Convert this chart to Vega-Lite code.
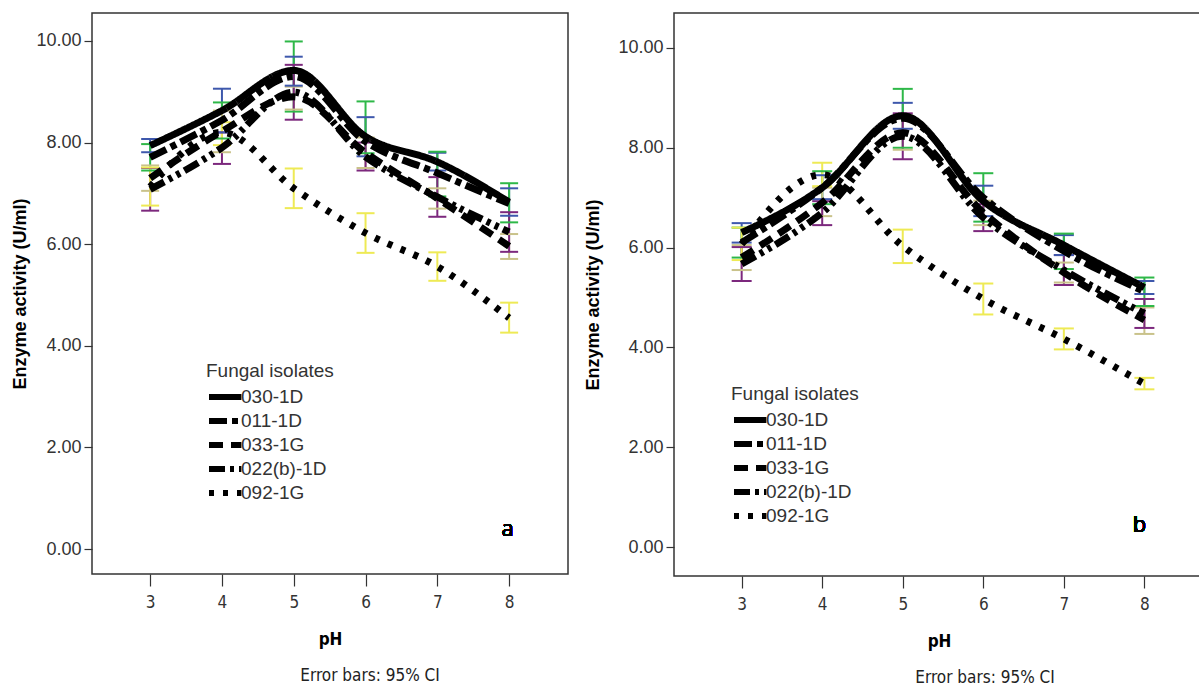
{
  "$schema": "https://vega.github.io/schema/vega-lite/v6.json",
  "padding": {"left": 11, "top": 12, "right": 0, "bottom": 0},
  "background": "white",
  "config": {
    "font": "Liberation Sans",
    "view": {"stroke": "#333333", "strokeWidth": 1.5},
    "axis": {"grid": false, "domain": false, "tickColor": "#333333", "tickWidth": 1.2, "labelColor": "#333333", "titleColor": "#000000"}
  },
  "datasets": {
    "a": [
      {"isolate": "030-1D", "pH": 3, "mean": 7.94, "lo": 7.81, "hi": 8.07},
      {"isolate": "030-1D", "pH": 4, "mean": 8.63, "lo": 8.2, "hi": 9.06},
      {"isolate": "030-1D", "pH": 5, "mean": 9.42, "lo": 9.12, "hi": 9.69},
      {"isolate": "030-1D", "pH": 6, "mean": 8.12, "lo": 7.73, "hi": 8.5},
      {"isolate": "030-1D", "pH": 7, "mean": 7.62, "lo": 7.45, "hi": 7.8},
      {"isolate": "030-1D", "pH": 8, "mean": 6.83, "lo": 6.56, "hi": 7.1},
      {"isolate": "011-1D", "pH": 3, "mean": 7.71, "lo": 7.45, "hi": 7.97},
      {"isolate": "011-1D", "pH": 4, "mean": 8.44, "lo": 8.08, "hi": 8.79},
      {"isolate": "011-1D", "pH": 5, "mean": 9.3, "lo": 8.61, "hi": 9.99},
      {"isolate": "011-1D", "pH": 6, "mean": 8.02, "lo": 7.79, "hi": 8.81},
      {"isolate": "011-1D", "pH": 7, "mean": 7.4, "lo": 6.94, "hi": 7.82},
      {"isolate": "011-1D", "pH": 8, "mean": 6.8, "lo": 6.43, "hi": 7.2},
      {"isolate": "033-1G", "pH": 3, "mean": 7.3, "lo": 7.05, "hi": 7.55},
      {"isolate": "033-1G", "pH": 4, "mean": 8.22, "lo": 7.81, "hi": 8.63},
      {"isolate": "033-1G", "pH": 5, "mean": 8.9, "lo": 8.65, "hi": 9.1},
      {"isolate": "033-1G", "pH": 6, "mean": 7.8, "lo": 7.5, "hi": 8.1},
      {"isolate": "033-1G", "pH": 7, "mean": 6.9, "lo": 6.7, "hi": 7.1},
      {"isolate": "033-1G", "pH": 8, "mean": 5.96, "lo": 5.71, "hi": 6.2},
      {"isolate": "022(b)-1D", "pH": 3, "mean": 7.08, "lo": 6.66, "hi": 7.5},
      {"isolate": "022(b)-1D", "pH": 4, "mean": 7.9, "lo": 7.58, "hi": 8.2},
      {"isolate": "022(b)-1D", "pH": 5, "mean": 8.99, "lo": 8.45, "hi": 9.53},
      {"isolate": "022(b)-1D", "pH": 6, "mean": 7.72, "lo": 7.45, "hi": 8.0},
      {"isolate": "022(b)-1D", "pH": 7, "mean": 6.93, "lo": 6.54, "hi": 7.32},
      {"isolate": "022(b)-1D", "pH": 8, "mean": 6.24, "lo": 5.85, "hi": 6.63},
      {"isolate": "092-1G", "pH": 3, "mean": 7.13, "lo": 6.76, "hi": 7.51},
      {"isolate": "092-1G", "pH": 4, "mean": 8.2, "lo": 7.95, "hi": 8.4},
      {"isolate": "092-1G", "pH": 5, "mean": 7.1, "lo": 6.71, "hi": 7.49},
      {"isolate": "092-1G", "pH": 6, "mean": 6.22, "lo": 5.83, "hi": 6.61},
      {"isolate": "092-1G", "pH": 7, "mean": 5.56, "lo": 5.28, "hi": 5.84},
      {"isolate": "092-1G", "pH": 8, "mean": 4.55, "lo": 4.26, "hi": 4.85}
    ],
    "b": [
      {"isolate": "030-1D", "pH": 3, "mean": 6.3, "lo": 6.1, "hi": 6.49},
      {"isolate": "030-1D", "pH": 4, "mean": 7.2, "lo": 6.97, "hi": 7.45},
      {"isolate": "030-1D", "pH": 5, "mean": 8.64, "lo": 8.38, "hi": 8.9},
      {"isolate": "030-1D", "pH": 6, "mean": 6.93, "lo": 6.63, "hi": 7.24},
      {"isolate": "030-1D", "pH": 7, "mean": 6.05, "lo": 5.85, "hi": 6.25},
      {"isolate": "030-1D", "pH": 8, "mean": 5.2, "lo": 5.07, "hi": 5.33},
      {"isolate": "011-1D", "pH": 3, "mean": 6.1, "lo": 5.8, "hi": 6.4},
      {"isolate": "011-1D", "pH": 4, "mean": 7.2, "lo": 6.87, "hi": 7.53},
      {"isolate": "011-1D", "pH": 5, "mean": 8.59, "lo": 8.0, "hi": 9.18},
      {"isolate": "011-1D", "pH": 6, "mean": 7.0, "lo": 6.52, "hi": 7.49},
      {"isolate": "011-1D", "pH": 7, "mean": 5.93, "lo": 5.57, "hi": 6.28},
      {"isolate": "011-1D", "pH": 8, "mean": 5.12, "lo": 4.83, "hi": 5.4},
      {"isolate": "033-1G", "pH": 3, "mean": 5.8, "lo": 5.55, "hi": 6.05},
      {"isolate": "033-1G", "pH": 4, "mean": 6.9, "lo": 6.63, "hi": 7.2},
      {"isolate": "033-1G", "pH": 5, "mean": 8.3, "lo": 7.96, "hi": 8.64},
      {"isolate": "033-1G", "pH": 6, "mean": 6.7, "lo": 6.45, "hi": 6.94},
      {"isolate": "033-1G", "pH": 7, "mean": 5.5, "lo": 5.3, "hi": 5.7},
      {"isolate": "033-1G", "pH": 8, "mean": 4.55, "lo": 4.27, "hi": 4.8},
      {"isolate": "022(b)-1D", "pH": 3, "mean": 5.67, "lo": 5.33, "hi": 6.01},
      {"isolate": "022(b)-1D", "pH": 4, "mean": 6.7, "lo": 6.45, "hi": 6.93},
      {"isolate": "022(b)-1D", "pH": 5, "mean": 8.23, "lo": 7.77, "hi": 8.69},
      {"isolate": "022(b)-1D", "pH": 6, "mean": 6.6, "lo": 6.33, "hi": 6.87},
      {"isolate": "022(b)-1D", "pH": 7, "mean": 5.55, "lo": 5.25, "hi": 5.85},
      {"isolate": "022(b)-1D", "pH": 8, "mean": 4.68, "lo": 4.39, "hi": 4.97},
      {"isolate": "092-1G", "pH": 3, "mean": 6.07, "lo": 5.75, "hi": 6.4},
      {"isolate": "092-1G", "pH": 4, "mean": 7.46, "lo": 7.23, "hi": 7.7},
      {"isolate": "092-1G", "pH": 5, "mean": 6.03, "lo": 5.69, "hi": 6.36},
      {"isolate": "092-1G", "pH": 6, "mean": 4.97, "lo": 4.66, "hi": 5.28},
      {"isolate": "092-1G", "pH": 7, "mean": 4.17, "lo": 3.96, "hi": 4.38},
      {"isolate": "092-1G", "pH": 8, "mean": 3.27, "lo": 3.16, "hi": 3.39}
    ]
  },
  "spacing": 15,
  "resolve": {
    "scale": {"x": "independent", "y": "independent", "color": "independent", "strokeDash": "independent"}
  },
  "hconcat": [
    {
      "width": 476,
      "height": 561,
      "data": {"name": "a"},
      "title": {"text": "Error bars: 95% CI", "orient": "bottom", "dx": 40, "offset": 21, "fontSize": 17, "fontWeight": "normal", "font": "Liberation Sans Narrow, DejaVu Sans Condensed, Liberation Sans", "color": "#222222"},
      "encoding": {
        "x": {"field": "pH", "type": "quantitative",
          "scale": {"domain": [2.19, 8.82], "nice": false, "zero": false},
          "axis": {"values": [3, 4, 5, 6, 7, 8], "tickSize": 12, "labelPadding": 8, "labelFontSize": 17, "labelFont": "Liberation Sans Narrow, DejaVu Sans Condensed, Liberation Sans", "title": "pH", "titleFontSize": 17, "titleFontWeight": "bold", "titlePadding": 21, "titleFont": "Liberation Sans Narrow, DejaVu Sans Condensed, Liberation Sans"}}
      },
      "layer": [
        {
          "mark": {"type": "rule", "strokeWidth": 2},
          "encoding": {
            "y": {"field": "lo", "type": "quantitative",
              "scale": {"domain": [-0.49, 10.55], "nice": false, "zero": false},
              "axis": {"values": [0, 2, 4, 6, 8, 10], "format": ".2f", "tickSize": 8, "labelPadding": 3, "labelFontSize": 18, "title": "Enzyme activity (U/ml)", "titleFontSize": 18, "titleFontWeight": "bold", "titlePadding": 6}},
            "y2": {"field": "hi"},
            "color": {"field": "isolate", "type": "nominal", "legend": null,
              "scale": {"domain": ["092-1G", "022(b)-1D", "033-1G", "011-1D", "030-1D"], "range": ["#EEEA55", "#7C287D", "#C9C28A", "#2EB848", "#3E58AC"]}}
          }
        },
        {
          "mark": {"type": "rule", "strokeWidth": 2, "xOffset": -9, "x2Offset": 9},
          "encoding": {
            "x2": {"field": "pH"},
            "y": {"field": "hi", "type": "quantitative"},
            "color": {"field": "isolate", "type": "nominal", "legend": null}
          }
        },
        {
          "mark": {"type": "rule", "strokeWidth": 2, "xOffset": -9, "x2Offset": 9},
          "encoding": {
            "x2": {"field": "pH"},
            "y": {"field": "lo", "type": "quantitative"},
            "color": {"field": "isolate", "type": "nominal", "legend": null}
          }
        },
        {
          "mark": {"type": "line", "color": "black", "strokeWidth": 7, "interpolate": "monotone", "strokeCap": "butt"},
          "encoding": {
            "y": {"field": "mean", "type": "quantitative"},
            "strokeDash": {"field": "isolate", "type": "nominal",
              "scale": {"domain": ["030-1D", "011-1D", "033-1G", "022(b)-1D", "092-1G"], "range": [[1, 0], [18, 5, 6, 5], [14, 8], [16, 5, 4, 5, 4, 5], [5, 9]]},
              "legend": {"orient": "none", "legendX": 114, "legendY": 349, "title": "Fungal isolates", "titleFontSize": 19, "titleFontWeight": "normal", "titleColor": "#333333", "titlePadding": 4, "labelFontSize": 19, "labelColor": "#333333", "labelOffset": 11, "symbolType": "M-1,0H2.6", "symbolSize": 324, "symbolStrokeWidth": 6, "symbolStrokeColor": "black", "symbolFillColor": "transparent", "rowPadding": 0}}
          }
        },
        {
          "mark": {"type": "text", "fontSize": 22, "fontWeight": "normal", "color": "black", "font": "Open Sans"},
          "encoding": {"x": {"datum": 7.98}, "y": {"datum": 0.4}, "text": {"value": "a"}}
        }
      ]
    },
    {
      "width": 530,
      "height": 563,
      "data": {"name": "b"},
      "title": {"text": "Error bars: 95% CI", "orient": "bottom", "dx": 46, "offset": 21, "fontSize": 17, "fontWeight": "normal", "font": "Liberation Sans Narrow, DejaVu Sans Condensed, Liberation Sans", "color": "#222222"},
      "encoding": {
        "x": {"field": "pH", "type": "quantitative",
          "scale": {"domain": [2.16, 8.74], "nice": false, "zero": false},
          "axis": {"values": [3, 4, 5, 6, 7, 8], "tickSize": 12, "labelPadding": 8, "labelFontSize": 17, "labelFont": "Liberation Sans Narrow, DejaVu Sans Condensed, Liberation Sans", "title": "pH", "titleFontSize": 17, "titleFontWeight": "bold", "titlePadding": 21, "titleFont": "Liberation Sans Narrow, DejaVu Sans Condensed, Liberation Sans"}}
      },
      "layer": [
        {
          "mark": {"type": "rule", "strokeWidth": 2},
          "encoding": {
            "y": {"field": "lo", "type": "quantitative",
              "scale": {"domain": [-0.58, 10.70], "nice": false, "zero": false},
              "axis": {"values": [0, 2, 4, 6, 8, 10], "format": ".2f", "tickSize": 8, "labelPadding": 3, "labelFontSize": 18, "title": "Enzyme activity (U/ml)", "titleFontSize": 18, "titleFontWeight": "bold", "titlePadding": 15}},
            "y2": {"field": "hi"},
            "color": {"field": "isolate", "type": "nominal", "legend": null,
              "scale": {"domain": ["092-1G", "022(b)-1D", "033-1G", "011-1D", "030-1D"], "range": ["#EEEA55", "#7C287D", "#C9C28A", "#2EB848", "#3E58AC"]}}
          }
        },
        {
          "mark": {"type": "rule", "strokeWidth": 2, "xOffset": -10, "x2Offset": 10},
          "encoding": {
            "x2": {"field": "pH"},
            "y": {"field": "hi", "type": "quantitative"},
            "color": {"field": "isolate", "type": "nominal", "legend": null}
          }
        },
        {
          "mark": {"type": "rule", "strokeWidth": 2, "xOffset": -10, "x2Offset": 10},
          "encoding": {
            "x2": {"field": "pH"},
            "y": {"field": "lo", "type": "quantitative"},
            "color": {"field": "isolate", "type": "nominal", "legend": null}
          }
        },
        {
          "mark": {"type": "line", "color": "black", "strokeWidth": 7, "interpolate": "monotone", "strokeCap": "butt"},
          "encoding": {
            "y": {"field": "mean", "type": "quantitative"},
            "strokeDash": {"field": "isolate", "type": "nominal",
              "scale": {"domain": ["030-1D", "011-1D", "033-1G", "022(b)-1D", "092-1G"], "range": [[1, 0], [18, 5, 6, 5], [14, 8], [16, 5, 4, 5, 4, 5], [5, 9]]},
              "legend": {"orient": "none", "legendX": 57, "legendY": 372, "title": "Fungal isolates", "titleFontSize": 19, "titleFontWeight": "normal", "titleColor": "#333333", "titlePadding": 4, "labelFontSize": 19, "labelColor": "#333333", "labelOffset": 11, "symbolType": "M-1,0H2.6", "symbolSize": 324, "symbolStrokeWidth": 6, "symbolStrokeColor": "black", "symbolFillColor": "transparent", "rowPadding": 0}}
          }
        },
        {
          "mark": {"type": "text", "fontSize": 22, "fontWeight": "normal", "color": "black", "font": "Open Sans"},
          "encoding": {"x": {"datum": 7.94}, "y": {"datum": 0.44}, "text": {"value": "b"}}
        }
      ]
    }
  ]
}
